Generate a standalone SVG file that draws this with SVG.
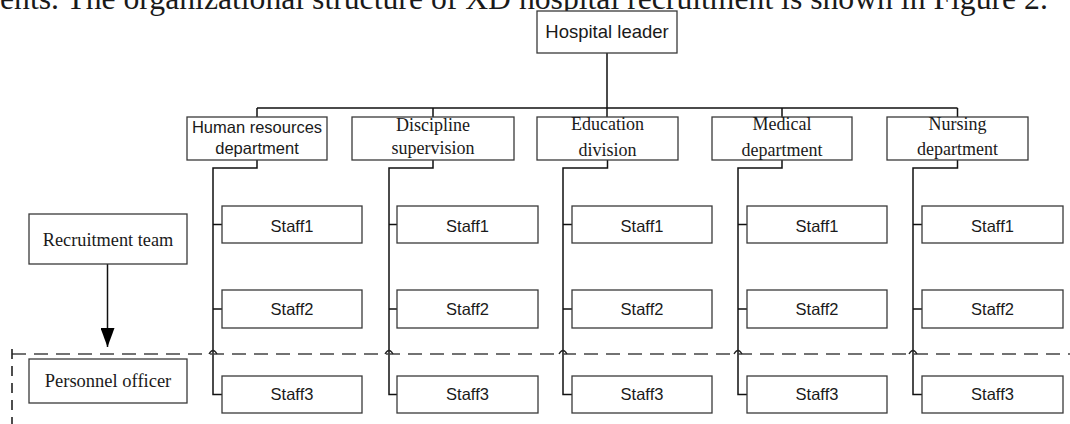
<svg xmlns="http://www.w3.org/2000/svg" width="1070" height="424" viewBox="0 0 1070 424">
<style>
.box{fill:#fff;stroke:#3a3a3a;stroke-width:1.3}
.ln{fill:none;stroke:#111;stroke-width:1.5}
.dash{fill:none;stroke:#444;stroke-width:1.6;stroke-dasharray:14 8}
.vdash{fill:none;stroke:#222;stroke-width:1.6;stroke-dasharray:10 7}
.sans{font-family:"Liberation Sans",Arial,sans-serif;fill:#1a1a1a;text-anchor:middle}
.serif{font-family:"Liberation Serif","Times New Roman",serif;fill:#1a1a1a;text-anchor:middle}
.staff{font-size:16.5px}
</style>
<defs>
<marker id="arr" markerWidth="20" markerHeight="14" refX="19" refY="7" orient="auto" markerUnits="userSpaceOnUse" viewBox="0 0 20 14">
<path d="M0,0 L19,7 L0,14 Z" fill="#000"/>
</marker>
</defs>
<rect width="1070" height="424" fill="#fff"/>
<text x="0" y="9" class="serif" style="text-anchor:start;font-size:31.7px" fill="#000">ents. The organizational structure of XD hospital recruitment is shown in Figure 2.</text>

<g id="connectors">
<path class="ln" d="M607,53 V108 M257,108 H957.5 M257,108 V117 M433,108 V117 M607,108 V117 M782,108 V117 M957.5,108 V117"/>
<path class="ln" d="M257,160 V168 H213 V394.5 H222 M213,224.5 H222 M213,309 H222"/>
<path class="ln" d="M433,160 V168 H389 V394.5 H397 M389,224.5 H397 M389,309 H397"/>
<path class="ln" d="M607.5,160 V168 H563 V394.5 H572 M563,224.5 H572 M563,309 H572"/>
<path class="ln" d="M782,160 V168 H738 V394.5 H747 M738,224.5 H747 M738,309 H747"/>
<path class="ln" d="M957.5,160 V168 H913 V394.5 H922 M913,224.5 H922 M913,309 H922"/>
<path class="ln" d="M107.5,264 V347" marker-end="url(#arr)"/>
<path class="dash" d="M12,354 H1070"/>
<path class="vdash" d="M12,349 V424"/>
<path fill="none" stroke="#222" stroke-width="1.3" d="M209,354 Q213,347 217,354 M385,354 Q389,347 393,354 M559,354 Q563,347 567,354 M734,354 Q738,347 742,354 M909,354 Q913,347 917,354"/>
</g>

<g id="hospital-leader"><rect class="box" x="537" y="11" width="140" height="42"/><text class="sans" x="607" y="38" font-size="18.5">Hospital leader</text></g>

<g id="hr-dept"><rect class="box" x="187" y="117" width="140" height="43"/><text class="sans" x="257" y="133" font-size="16.5">Human resources</text><text class="sans" x="257" y="154" font-size="16.5">department</text></g>
<g id="discipline"><rect class="box" x="352" y="117" width="162" height="43"/><text class="serif" x="433" y="131" font-size="18">Discipline</text><text class="serif" x="433" y="154" font-size="18">supervision</text></g>
<g id="education"><rect class="box" x="537" y="117" width="141" height="43"/><text class="serif" x="607.5" y="130" font-size="18">Education</text><text class="serif" x="607.5" y="156" font-size="18">division</text></g>
<g id="medical"><rect class="box" x="712" y="117" width="140" height="43"/><text class="serif" x="782" y="130" font-size="18">Medical</text><text class="serif" x="782" y="156" font-size="18">department</text></g>
<g id="nursing"><rect class="box" x="887" y="117" width="141" height="43"/><text class="serif" x="957.5" y="130" font-size="18">Nursing</text><text class="serif" x="957.5" y="155" font-size="18">department</text></g>

<g id="recruitment-team"><rect class="box" x="29" y="214" width="158" height="50"/><text class="serif" x="108" y="246" font-size="18.3">Recruitment team</text></g>
<g id="personnel-officer"><rect class="box" x="29" y="359" width="158" height="44"/><text class="serif" x="108" y="387" font-size="18.5">Personnel officer</text></g>

<g id="hr-staff1"><rect class="box" x="222" y="206" width="140" height="37"/><text class="sans staff" x="292" y="231.5">Staff1</text></g>
<g id="hr-staff2"><rect class="box" x="222" y="290" width="140" height="38"/><text class="sans staff" x="292" y="315">Staff2</text></g>
<g id="hr-staff3"><rect class="box" x="222" y="376" width="140" height="37"/><text class="sans staff" x="292" y="400">Staff3</text></g>

<g id="dis-staff1"><rect class="box" x="397" y="206" width="141" height="37"/><text class="sans staff" x="467.5" y="231.5">Staff1</text></g>
<g id="dis-staff2"><rect class="box" x="397" y="290" width="141" height="38"/><text class="sans staff" x="467.5" y="315">Staff2</text></g>
<g id="dis-staff3"><rect class="box" x="397" y="376" width="141" height="37"/><text class="sans staff" x="467.5" y="400">Staff3</text></g>

<g id="edu-staff1"><rect class="box" x="572" y="206" width="140" height="37"/><text class="sans staff" x="642" y="231.5">Staff1</text></g>
<g id="edu-staff2"><rect class="box" x="572" y="290" width="140" height="38"/><text class="sans staff" x="642" y="315">Staff2</text></g>
<g id="edu-staff3"><rect class="box" x="572" y="376" width="140" height="37"/><text class="sans staff" x="642" y="400">Staff3</text></g>

<g id="med-staff1"><rect class="box" x="747" y="206" width="140" height="37"/><text class="sans staff" x="817" y="231.5">Staff1</text></g>
<g id="med-staff2"><rect class="box" x="747" y="290" width="140" height="38"/><text class="sans staff" x="817" y="315">Staff2</text></g>
<g id="med-staff3"><rect class="box" x="747" y="376" width="140" height="37"/><text class="sans staff" x="817" y="400">Staff3</text></g>

<g id="nur-staff1"><rect class="box" x="922" y="206" width="141" height="37"/><text class="sans staff" x="992.5" y="231.5">Staff1</text></g>
<g id="nur-staff2"><rect class="box" x="922" y="290" width="141" height="38"/><text class="sans staff" x="992.5" y="315">Staff2</text></g>
<g id="nur-staff3"><rect class="box" x="922" y="376" width="141" height="37"/><text class="sans staff" x="992.5" y="400">Staff3</text></g>
</svg>
